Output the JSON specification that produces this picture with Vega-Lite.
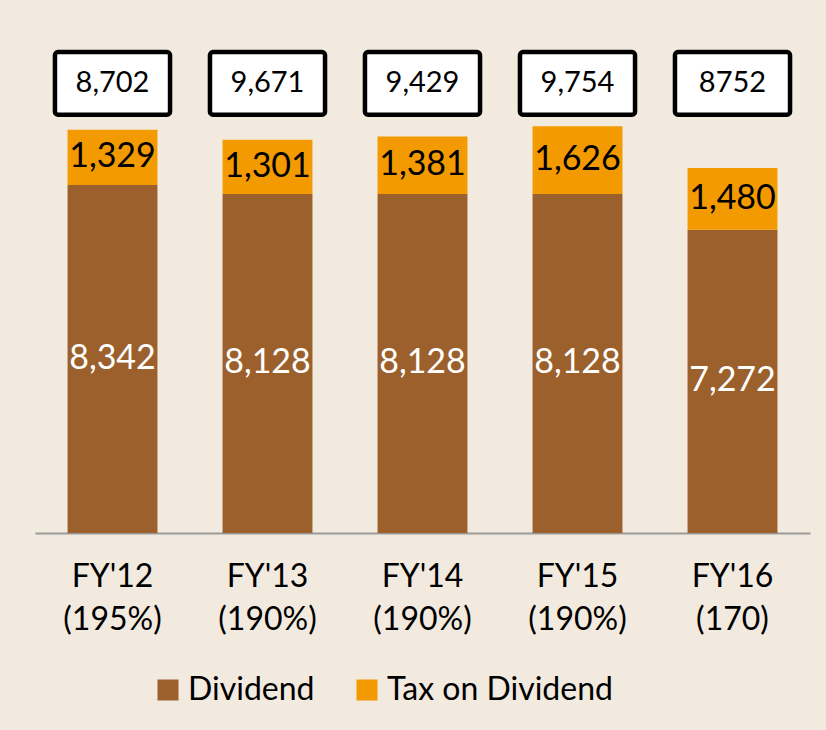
{
  "$schema": "https://vega.github.io/schema/vega-lite/v6.json",
  "width": 775,
  "height": 493,
  "autosize": "none",
  "padding": {"left": 35, "top": 40, "right": 16, "bottom": 197},
  "background": "#F2EADF",
  "config": {
    "view": {"stroke": null},
    "font": "Lato",
    "text": {"font": "Lato"}
  },
  "datasets": {
    "segments": [
      {"period": "FY'12 (195%)", "type": "Dividend", "value": 8342},
      {"period": "FY'12 (195%)", "type": "Tax on Dividend", "value": 1329},
      {"period": "FY'13 (190%)", "type": "Dividend", "value": 8128},
      {"period": "FY'13 (190%)", "type": "Tax on Dividend", "value": 1301},
      {"period": "FY'14 (190%)", "type": "Dividend", "value": 8128},
      {"period": "FY'14 (190%)", "type": "Tax on Dividend", "value": 1381},
      {"period": "FY'15 (190%)", "type": "Dividend", "value": 8128},
      {"period": "FY'15 (190%)", "type": "Tax on Dividend", "value": 1626},
      {"period": "FY'16 (170)", "type": "Dividend", "value": 7272},
      {"period": "FY'16 (170)", "type": "Tax on Dividend", "value": 1480}
    ],
    "totals": [
      {"period": "FY'12 (195%)", "total": "8,702"},
      {"period": "FY'13 (190%)", "total": "9,671"},
      {"period": "FY'14 (190%)", "total": "9,429"},
      {"period": "FY'15 (190%)", "total": "9,754"},
      {"period": "FY'16 (170)", "total": "8752"}
    ]
  },
  "encoding": {
    "x": {
      "field": "period",
      "type": "nominal",
      "sort": null,
      "scale": {"paddingInner": 0.42, "paddingOuter": 0.21},
      "axis": {
        "title": null,
        "labelAngle": 0,
        "labelExpr": "split(datum.label, ' ')",
        "labelFont": "Lato",
        "labelFontSize": 32,
        "labelLineHeight": 43,
        "labelColor": "#000000",
        "labelPadding": 28,
        "ticks": false,
        "domainColor": "#9A9A9A",
        "domainWidth": 2
      }
    }
  },
  "layer": [
    {
      "data": {"name": "segments"},
      "transform": [
        {"stack": "value", "groupby": ["period"], "sort": [{"field": "type", "order": "ascending"}], "as": ["y0", "y1"]},
        {"calculate": "(datum.y0 + datum.y1) / 2", "as": "mid"}
      ],
      "layer": [
        {
          "mark": {"type": "bar"},
          "encoding": {
            "y": {"field": "y0", "type": "quantitative", "scale": {"domain": [0, 11820], "nice": false}, "axis": null},
            "y2": {"field": "y1"},
            "color": {
              "field": "type",
              "type": "nominal",
              "scale": {"domain": ["Dividend", "Tax on Dividend"], "range": ["#9C602C", "#F39A00"]},
              "legend": {
                "title": null,
                "orient": "none",
                "legendX": 117,
                "legendY": 634,
                "direction": "horizontal",
                "symbolType": "square",
                "symbolSize": 441,
                "symbolStrokeWidth": 0,
                "symbolOpacity": 1,
                "labelFont": "Lato",
                "labelFontSize": 32,
                "labelColor": "#000000",
                "labelOffset": 4,
                "labelLimit": 0,
                "columnPadding": 36
              }
            }
          }
        },
        {
          "mark": {"type": "text", "fontSize": 34, "font": "Lato"},
          "encoding": {
            "y": {"field": "mid", "type": "quantitative"},
            "text": {"field": "value", "type": "quantitative", "format": ","},
            "color": {
              "condition": {"test": "datum.type === 'Dividend'", "value": "#FFFFFF"},
              "value": "#000000"
            }
          }
        }
      ]
    },
    {
      "data": {"name": "totals"},
      "layer": [
        {
          "mark": {"type": "bar", "fill": "#FFFFFF", "stroke": "#000000", "strokeWidth": 4.5, "cornerRadius": 3, "width": {"band": 1.28}},
          "encoding": {
            "y": {"datum": 10030, "type": "quantitative"},
            "y2": {"datum": 11530}
          }
        },
        {
          "mark": {"type": "text", "fontSize": 29, "font": "Lato", "color": "#000000"},
          "encoding": {
            "y": {"datum": 10780, "type": "quantitative"},
            "text": {"field": "total", "type": "nominal"}
          }
        }
      ]
    }
  ]
}
